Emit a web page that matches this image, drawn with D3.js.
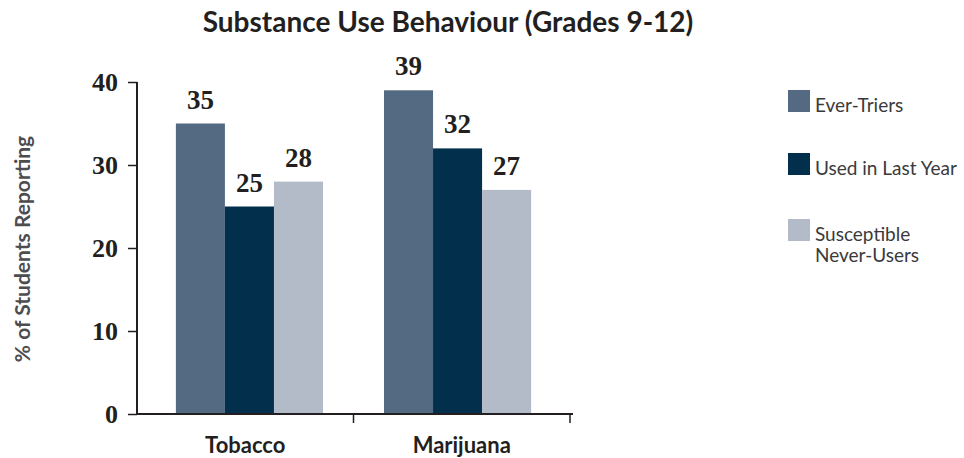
<!DOCTYPE html>
<html>
<head>
<meta charset="utf-8">
<script src="https://cdn.jsdelivr.net/npm/d3@7"></script>
<style>
  html, body { margin: 0; padding: 0; background: #fff; }
  svg { display: block; }
</style>
</head>
<body>
<svg id="chart" width="964" height="458"></svg>
<script>
// Substance use among students, grades 9-12 (% reporting)
const categories = ["Tobacco", "Marijuana"];
const seriesNames = ["Ever-Triers", "Used in Last Year", "Susceptible Never-Users"];
const everTriers = [35, 39];
const usedLastYear = [25, 32];
const susceptibleNeverUsers = [28, 27];
const yTicks = [0, 10, 20, 30, 40];
const seriesColors = ["#546a82", "#02304c", "#b4bbc8"];

const seriesValues = [everTriers, usedLastYear, susceptibleNeverUsers];
const rows = categories.map((c, i) => ({
  category: c,
  values: seriesNames.map((s, j) => ({ series: s, value: seriesValues[j][i] }))
}));

const svg = d3.select("#chart");
const sansFont = "Lato, 'Open Sans', sans-serif";
const serifFont = "'Liberation Serif', 'DejaVu Serif', serif";

const y = d3.scaleLinear().domain([0, 40]).range([414, 82]);
const x = d3.scaleBand().domain(categories)
  .range([145.5, 561.5]).paddingInner(0.293).paddingOuter(0.146);
const xs = d3.scaleBand().domain(seriesNames).range([0, x.bandwidth()]);
const color = d3.scaleOrdinal().domain(seriesNames).range(seriesColors);

// Title
svg.append("text")
  .attr("x", 448).attr("y", 32)
  .attr("text-anchor", "middle")
  .style("font-family", sansFont).style("font-weight", "bold")
  .style("font-size", "28px").attr("fill", "#231f20")
  .text("Substance Use Behaviour (Grades 9-12)");

// Bars
const groups = svg.append("g").selectAll("g").data(rows).join("g")
  .attr("transform", d => `translate(${x(d.category)},0)`);

groups.selectAll("rect").data(d => d.values).join("rect")
  .attr("x", d => xs(d.series))
  .attr("y", d => y(d.value))
  .attr("width", xs.bandwidth())
  .attr("height", d => y(0) - y(d.value))
  .attr("fill", d => color(d.series));

groups.selectAll("text.val").data(d => d.values).join("text")
  .attr("class", "val")
  .attr("x", d => xs(d.series) + xs.bandwidth() / 2)
  .attr("y", d => y(d.value) - 15)
  .attr("text-anchor", "middle")
  .style("font-family", serifFont).style("font-weight", "bold")
  .style("font-size", "27px").attr("fill", "#231f20")
  .text(d => d.value);

// Y axis
const axisLeftX = 137, axisRightX = 573;
const yAxis = svg.append("g").attr("transform", `translate(${axisLeftX},0)`)
  .call(d3.axisLeft(y).tickValues(yTicks).tickSize(9).tickPadding(10));
yAxis.select(".domain").attr("d", `M0,${y(40)}V${y(0)}`).attr("stroke", "#231f20").attr("stroke-width", 2);
yAxis.selectAll(".tick line").attr("stroke", "#231f20").attr("stroke-width", 1.5);
yAxis.selectAll(".tick text")
  .style("font-family", serifFont).style("font-weight", "bold")
  .style("font-size", "26px").attr("fill", "#231f20").attr("dy", "0.33em");

// X axis: baseline, group separator ticks, category labels centred between ticks
const xAxisG = svg.append("g").attr("transform", `translate(0,${y(0)})`);
xAxisG.append("line").attr("x1", axisLeftX - 1).attr("x2", axisRightX).attr("y1", 0).attr("y2", 0)
  .attr("stroke", "#231f20").attr("stroke-width", 2);
const sepTicks = [x(categories[0]) + x.bandwidth() + x.step() * x.paddingInner() / 2, axisRightX - 3];
xAxisG.selectAll("line.sep").data(sepTicks).join("line").attr("class", "sep")
  .attr("x1", d => d).attr("x2", d => d).attr("y1", 0).attr("y2", 9)
  .attr("stroke", "#231f20").attr("stroke-width", 1.5);
const segEdges = [axisLeftX, ...sepTicks];
xAxisG.selectAll("text.cat").data(categories).join("text").attr("class", "cat")
  .attr("x", (d, i) => (segEdges[i] + segEdges[i + 1]) / 2)
  .attr("y", 39)
  .attr("text-anchor", "middle")
  .style("font-family", sansFont).style("font-weight", "bold")
  .style("font-size", "22px").attr("fill", "#231f20")
  .text(d => d);

// Y axis title
svg.append("text")
  .attr("transform", "translate(30,249) rotate(-90)")
  .attr("text-anchor", "middle")
  .style("font-family", sansFont).style("font-weight", "bold")
  .style("font-size", "21px").attr("fill", "#4d4d4f")
  .text("% of Students Reporting");

// Legend
const legendRows = [
  { name: seriesNames[0], lines: ["Ever-Triers"], top: 90 },
  { name: seriesNames[1], lines: ["Used in Last Year"], top: 153 },
  { name: seriesNames[2], lines: ["Susceptible", "Never-Users"], top: 219 }
];
const legend = svg.append("g");
const li = legend.selectAll("g").data(legendRows).join("g")
  .attr("transform", d => `translate(788,${d.top})`);
li.append("rect").attr("width", 22).attr("height", 22).attr("fill", d => color(d.name));
li.each(function(d) {
  const t = d3.select(this).append("text")
    .style("font-family", sansFont).style("font-size", "19px").attr("fill", "#3a3a3c");
  d.lines.forEach((ln, k) => {
    t.append("tspan").attr("x", 27).attr("y", 22 + k * 21).text(ln);
  });
});
</script>
</body>
</html>
